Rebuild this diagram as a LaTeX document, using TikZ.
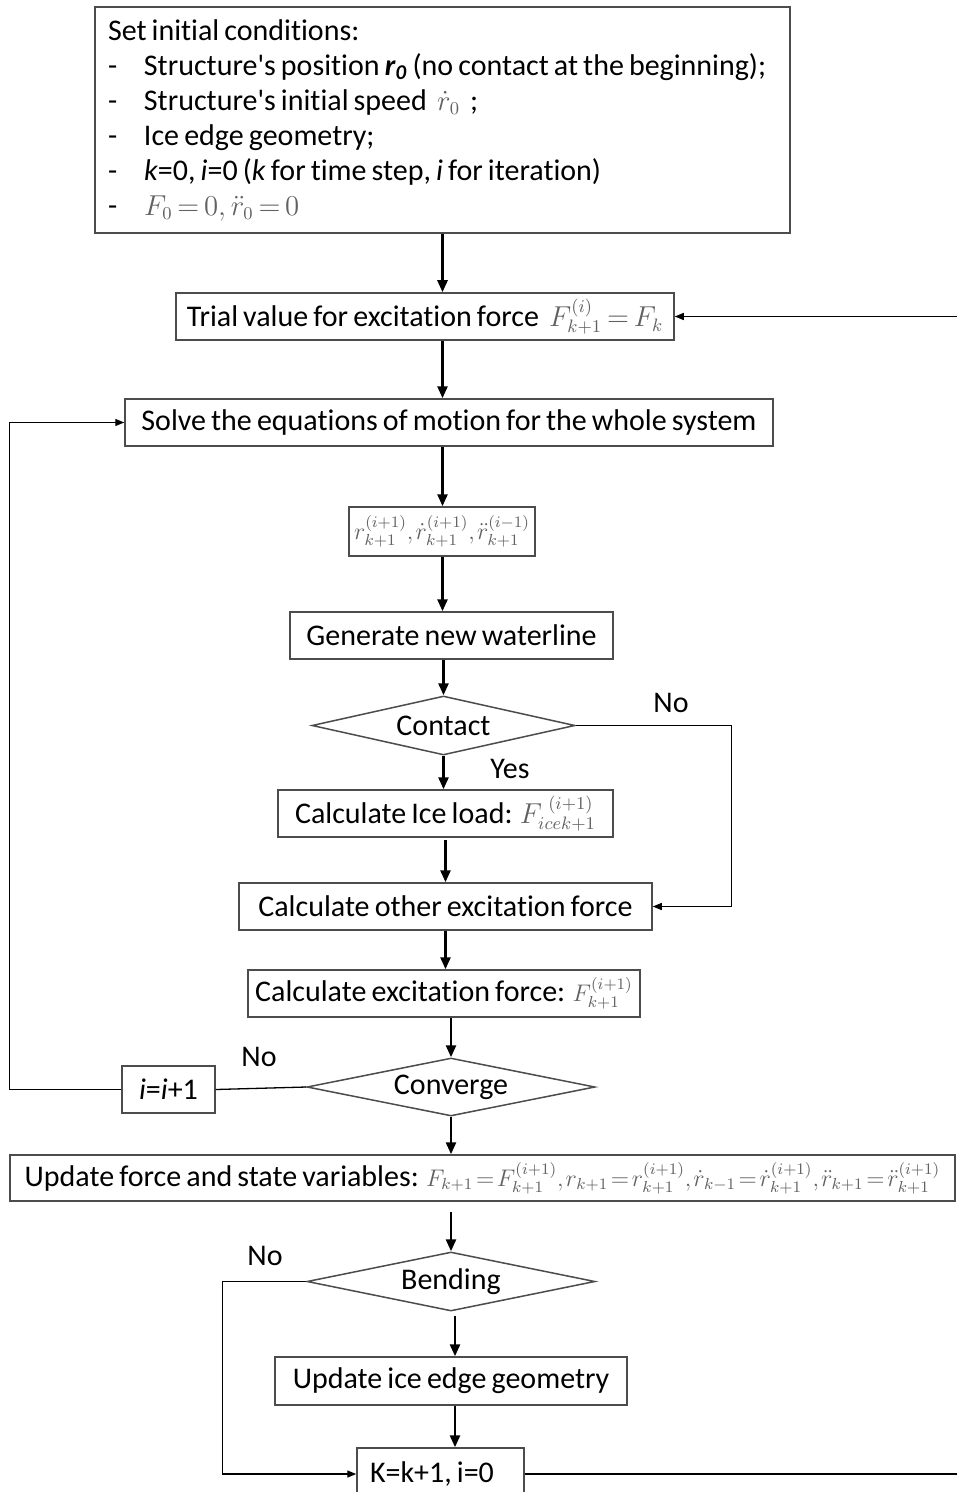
\documentclass[tikz,border=0pt]{standalone}
\usepackage{fontspec}
\setmainfont{Carlito}[Ligatures={TeXOff,CommonOff}, WordSpace=0.75]
\usetikzlibrary{arrows.meta,shapes.geometric,calc}
\newcommand{\fs}{\fontsize{15}{17.5}\selectfont}
\newcommand{\gm}[1]{{\fontsize{13.5}{15}\selectfont\thickmuskip=3mu\medmuskip=1.5mu\textcolor{black!62}{$#1$}}}
\newcommand{\gms}[1]{{\fontsize{11.5}{14}\selectfont\thickmuskip=2mu\medmuskip=1mu\thinmuskip=1.5mu\textcolor{black!62}{$#1$}}}
\newcommand{\itm}{\makebox[18pt][l]{-}}
\begin{document}
\begin{tikzpicture}[x=0.5pt,y=-0.5pt,
  box/.style={draw=black!70, line width=0.75pt, inner sep=0pt, font=\fs, align=center},
  dia/.style={diamond, draw=black!70, line width=0.75pt, inner sep=0pt, font=\fs, aspect=4.8},
  mainarr/.style={line width=1.3pt, -{Triangle[length=6pt,width=5pt]}},
  thinarr/.style={line width=0.65pt, -{Triangle[length=4.5pt,width=3.5pt]}},
  thinline/.style={line width=0.65pt},
  lab/.style={font=\fs, inner sep=0pt}]
\useasboundingbox (0,0) rectangle (957,1492);

\node[box, minimum width=347.5pt, minimum height=113pt, text width=334.5pt, inner xsep=6.5pt, align=left] (init) at (442.5,120)
 {\spaceskip=0pt\xspaceskip=0pt Set initial conditions:\\
  \itm Structure's position \textbf{\textit{r}\textsubscript{\textit{0}}} (no contact at the beginning);\\
  \itm Structure's initial speed \ \gm{\dot r_0} \ ;\\
  \itm Ice edge geometry;\\
  \itm \textit{k}=0, \textit{i}=0 (\textit{k} for time step, \textit{i} for iteration)\\
  \itm \gm{F_0 = 0, \ddot r_0 = 0}};

\node[box, minimum width=249pt, minimum height=23.5pt] (trial) at (425,316.5)
 {Trial value for excitation force \ \gm{F_{k+1}^{(i)} = F_k}};
\node[box, minimum width=324pt, minimum height=23.5pt] (solve) at (449,422.5)
 {Solve the equations of motion for the whole system};
\node[box, minimum width=93pt, minimum height=24.5pt] (rbox) at (442,531.5)
 {\gms{r_{k+1}^{(i+1)}, \dot r_{k+1}^{(i+1)}, \ddot r_{k+1}^{(i-1)}}};
\node[box, minimum width=161.5pt, minimum height=23.5pt] (gen) at (451.5,635.5)
 {Generate new waterline};
\node[dia, minimum width=131.5pt, minimum height=29.5pt] (contact) at (443.5,725.5) {Contact};
\node[box, minimum width=167.5pt, minimum height=23.5pt] (ice) at (445.5,813.5)
 {Calculate Ice load: \gm{F_{icek+1}^{\;\;(i+1)}}};
\node[box, minimum width=206.5pt, minimum height=23.5pt] (other) at (445.5,906.5)
 {Calculate other excitation force};
\node[box, minimum width=196pt, minimum height=23.5pt] (exc) at (444,993.5)
 {Calculate excitation force: \gms{F_{k+1}^{(i+1)}}};
\node[dia, minimum width=144pt, minimum height=29pt] (conv) at (451,1087) {Converge};
\node[box, minimum width=46.5pt, minimum height=23.5pt] (iinc) at (168.5,1089.5)
 {\textit{i}=\textit{i}+1};
\node[box, minimum width=472.5pt, minimum height=23pt] (upd) at (482.5,1178)
 {Update force and state variables: \gms{F_{k+1} = F_{k+1}^{(i+1)}, r_{k+1} = r_{k+1}^{(i+1)}, \dot r_{k-1} = \dot r_{k+1}^{(i+1)}, \ddot r_{k+1} = \ddot r_{k+1}^{(i+1)}}};
\node[dia, minimum width=144pt, minimum height=29.5pt] (bend) at (451,1281.5) {Bending};
\node[box, minimum width=176pt, minimum height=24pt] (upice) at (451,1381)
 {Update ice edge geometry};
\node[box, minimum width=83.5pt, minimum height=26pt, text width=70.5pt, inner xsep=6.5pt, align=left] (kbox) at (440.5,1474)
 {\spaceskip=0pt K=k+1, i=0};

\node[lab] (nocontact) at (671,703) {No};
\node[lab] (yes) at (510,769) {Yes};
\node[lab] (noconv) at (259,1057) {No};
\node[lab] (nobend) at (265,1256) {No};

\coordinate (x455) at (455,0);

% main flow
\draw[mainarr] (init.south) -- (trial.north -| init.south);
\draw[mainarr] (trial.south -| init.south) -- (solve.north -| init.south);
\draw[mainarr] (solve.south -| init.south) -- (rbox.north -| init.south);
\draw[mainarr] (rbox.south -| init.south) -- (gen.north -| init.south);
\draw[mainarr] (gen.south -| contact.north) -- (contact.north);
\draw[mainarr] (contact.south) -- (ice.north -| contact.south);
\draw[mainarr, shorten <=1pt] (ice.south) -- (other.north);
\draw[mainarr] (other.south) -- (exc.north -| other.south);
\draw[mainarr] (exc.south -| conv.north) -- (conv.north);
\draw[mainarr] (conv.south) -- (upd.north -| conv.south);
\draw[mainarr, shorten <=5pt] (upd.south -| bend.north) -- (bend.north);
\draw[mainarr, shorten <=2pt] (bend.south -| x455) -- (upice.north -| x455);
\draw[mainarr] (upice.south -| x455) -- (kbox.north -| x455);

% side connectors
\draw[thinarr] (contact.east) -- ++(156,0) |- (other.east);
\draw[thinline] (conv.west) -- (iinc.east);
\draw[thinarr] (iinc.west) -- ++(-112,0) |- (solve.west);
\draw[thinarr] (bend.west) -- ++(-84,0) |- (kbox.west);
\draw[thinarr] (kbox.east) -- ++(434,0) |- (trial.east);
\end{tikzpicture}
\end{document}
